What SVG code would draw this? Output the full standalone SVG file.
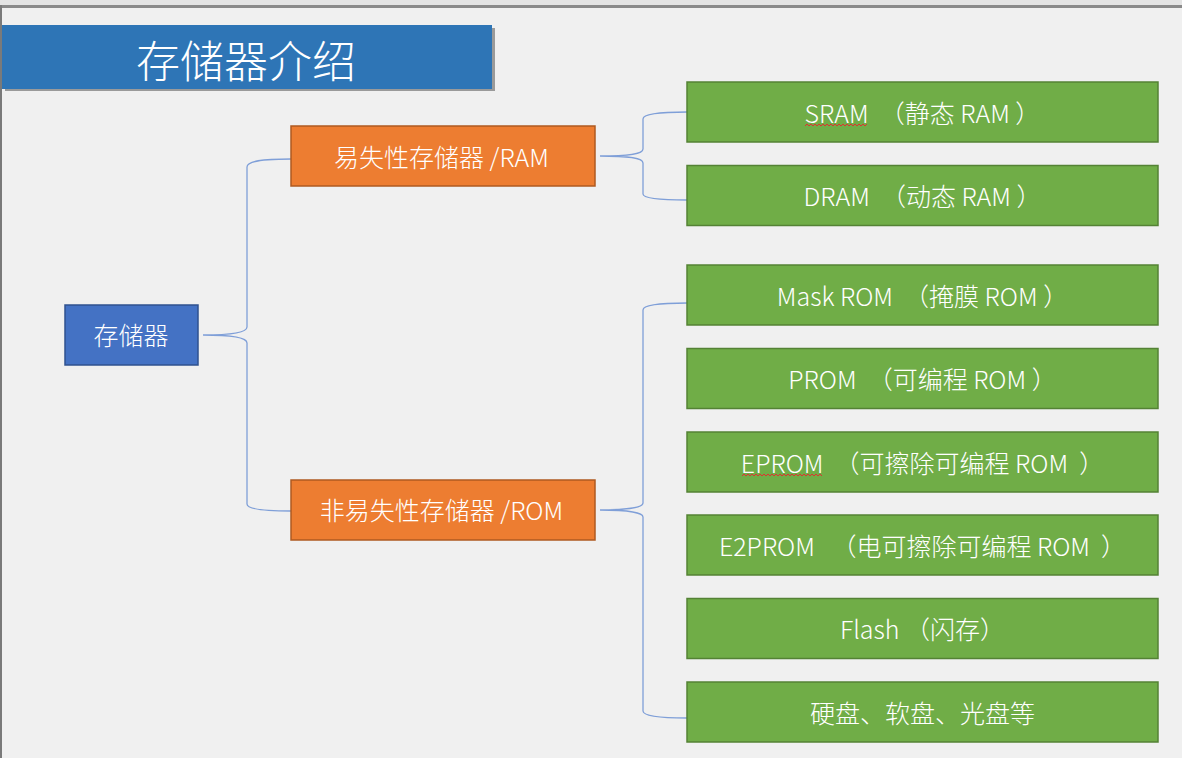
<svg xmlns="http://www.w3.org/2000/svg" width="1182" height="758" viewBox="0 0 1182 758">
<style>
.t{font-family:"Noto Sans CJK SC","Noto Sans",sans-serif;font-weight:300;fill:#ffffff;text-anchor:middle}
.gt{font-size:25px}
.g{fill:#70ad47;stroke:#548235;stroke-width:1.5}
.o{fill:#ed7d31;stroke:#ae5a21;stroke-width:1.5}
.b{fill:#4472c4;stroke:#2f528f;stroke-width:1.5}
.c{fill:none;stroke:#7f9fd8;stroke-width:1.3}
.sq{fill:none;stroke:#e03030;stroke-width:1}
</style>
<rect x="0" y="0" width="1182" height="758" fill="#f0f0f0"/>
<rect x="0" y="0" width="1182" height="5" fill="#e4e4e4"/>
<rect x="0" y="5" width="1182" height="3" fill="#8a8a8a"/>
<rect x="0" y="5" width="2" height="753" fill="#7a7a7a"/>
<g id="title">
<rect x="5" y="28" width="490" height="63" fill="#9a9a9a"/>
<rect x="2" y="25" width="490" height="64" fill="#2e75b6"/>
<text class="t" x="246" y="78" font-size="44">存储器介绍</text>
</g>
<g id="connectors">
<path class="c" d="M291,159 C262,159 247,161 247,167 L247,327 C247,332 235,335 203,335 C235,335 247,338 247,343 L247,504 C247,509 262,511 291,511"/>
<path class="c" d="M687,112 C660,112 643,114 643,119 L643,149 C643,154 630,156 600,156 C630,156 643,158 643,163 L643,194 C643,198 660,200 687,200"/>
<path class="c" d="M687,303 C660,303 643,305 643,310 L643,503 C643,507 630,510 600,510 C630,510 643,513 643,517 L643,711 C643,716 660,718 687,718"/>
</g>
<g id="root">
<rect class="b" x="65" y="305" width="133" height="60"/>
<text class="t" x="131" y="345" font-size="25">存储器</text>
</g>
<g id="ram">
<rect class="o" x="291" y="126" width="304" height="60"/>
<text class="t" x="441.5" y="167" font-size="25">易失性存储器 /RAM</text>
</g>
<g id="rom">
<rect class="o" x="291" y="480" width="304" height="60"/>
<text class="t" x="441.5" y="520" font-size="25">非易失性存储器 /ROM</text>
</g>
<g id="sram">
<rect class="g" x="687" y="82" width="471" height="60"/>
<text class="t gt" x="922.5" y="122.5" xml:space="preserve">SRAM  （静态 RAM ）</text>
<path class="sq" d="M805,126 l2,-2 l2,2 l2,-2 l2,2 l2,-2 l2,2 l2,-2 l2,2 l2,-2 l2,2 l2,-2 l2,2 l2,-2 l2,2 l2,-2 l2,2 l2,-2 l2,2 l2,-2 l2,2 l2,-2 l2,2 l2,-2 l2,2 l2,-2 l2,2 l2,-2 l2,2 l2,-2 l2,2 l2,-2"/>
</g>
<g id="dram">
<rect class="g" x="687" y="165.5" width="471" height="60"/>
<text class="t gt" x="922.5" y="206" xml:space="preserve">DRAM  （动态 RAM ）</text>
</g>
<g id="maskrom">
<rect class="g" x="687" y="265" width="471" height="60"/>
<text class="t gt" x="922.5" y="305.5" xml:space="preserve">Mask ROM  （掩膜 ROM ）</text>
</g>
<g id="prom">
<rect class="g" x="687" y="348.5" width="471" height="60"/>
<text class="t gt" x="922.5" y="389" xml:space="preserve">PROM  （可编程 ROM ）</text>
</g>
<g id="eprom">
<rect class="g" x="687" y="432" width="471" height="60"/>
<text class="t gt" x="922.5" y="472.5" xml:space="preserve">EPROM  （可擦除可编程 ROM  ）</text>
<path class="sq" d="M742,476 l2,-2 l2,2 l2,-2 l2,2 l2,-2 l2,2 l2,-2 l2,2 l2,-2 l2,2 l2,-2 l2,2 l2,-2 l2,2 l2,-2 l2,2 l2,-2 l2,2 l2,-2 l2,2 l2,-2 l2,2 l2,-2 l2,2 l2,-2 l2,2 l2,-2 l2,2 l2,-2 l2,2 l2,-2 l2,2 l2,-2 l2,2 l2,-2 l2,2 l2,-2 l2,2 l2,-2 l2,2"/>
</g>
<g id="e2prom">
<rect class="g" x="687" y="515" width="471" height="60"/>
<text class="t gt" x="922.5" y="555.5" xml:space="preserve">E2PROM   （电可擦除可编程 ROM  ）</text>
</g>
<g id="flash">
<rect class="g" x="687" y="598.5" width="471" height="60"/>
<text class="t gt" x="922.5" y="639" xml:space="preserve">Flash （闪存）</text>
</g>
<g id="disk">
<rect class="g" x="687" y="682" width="471" height="60"/>
<text class="t gt" x="922.5" y="722.5">硬盘、软盘、光盘等</text>
</g>
</svg>
